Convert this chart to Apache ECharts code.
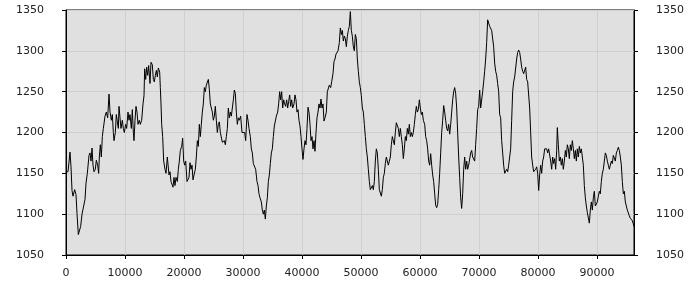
<!DOCTYPE html>
<html>
<head>
<meta charset="utf-8">
<script src="https://cdn.jsdelivr.net/npm/echarts@6/dist/echarts.min.js"></script>
<style>html,body{margin:0;padding:0;background:#fff;}#c{width:700px;height:300px;}</style>
</head>
<body>
<div id="c"></div>
<script>
var yTicks = [1050, 1100, 1150, 1200, 1250, 1300, 1350];
var xTicks = [0, 10000, 20000, 30000, 40000, 50000, 60000, 70000, 80000, 90000];
var xs = [0,339,508,678,848,1017,1187,1469,1695,1865,2091,2317,2486,2712,2995,3221,3390,3616,3899,4068,4238,4407,4577,4746,4972,5142,5368,5537,5650,5820,5989,6159,6328,6611,6837,7063,7289,7458,7684,7854,8023,8136,8362,8532,8701,8871,8984,9153,9323,9549,9718,9888,10114,10283,10509,10679,10848,11074,11244,11413,11526,11696,11865,12035,12204,12430,12600,12826,13052,13221,13334,13504,13673,13843,14012,14238,14408,14634,14803,14973,15142,15312,15481,15651,15877,15990,16103,16216,16385,16555,16781,16950,17176,17289,17459,17628,17798,17967,18137,18306,18476,18645,18871,19041,19210,19380,19606,19775,19945,20114,20284,20510,20679,20849,21018,21188,21357,21527,21696,21922,22092,22261,22431,22600,22770,22939,23109,23278,23448,23617,23787,23956,24126,24295,24465,24634,24804,24973,25143,25312,25482,25651,25821,25990,26160,26329,26499,26668,26838,27007,27177,27346,27516,27686,27855,28024,28194,28363,28533,28702,28872,29041,29211,29380,
29605,29831,30000,30283,30452,30678,30848,31017,31243,31413,31582,31752,31978,32147,32373,32543,32712,32882,33108,33277,33447,33616,33786,33955,34125,34294,34464,34633,34803,34972,35142,35311,35481,35650,35876,36046,36215,36385,36554,36724,36893,37063,37232,37402,37571,37741,37910,38080,38249,38419,38645,38814,38984,39153,39323,39492,39662,39831,40001,40170,40340,40509,40679,40848,41018,41187,41357,41526,41696,41865,42035,42204,42374,42543,42713,42882,43052,43221,43391,43560,43730,43899,44125,44295,44464,44634,44860,45029,45255,45425,45594,45764,45933,46103,46329,46498,46668,46837,47007,47176,47346,47515,47685,47854,48024,48193,48363,48532,48702,48871,49041,49210,49380,49549,49719,49888,50058,50227,50397,50566,50736,50905,51075,51244,51414,51583,51753,51922,52092,52261,52431,52600,52770,52939,53109,53278,53448,53617,53787,53956,54126,54295,54465,54634,54804,54973,55143,55312,55482,55651,55821,55990,56160,56329,56499,56668,56838,57007,57177,57346,57516,57685,57855,58024,58194,58363,58533,58702,58872,59041,59211,59380,59550,59719,59889,60058,60228,60397,60567,60793,60962,61132,61301,61471,61640,61810,61979,62149,62318,62488,62657,62827,62996,63166,63335,63505,63674,63844,64013,64183,64352,64522,64691,64861,65030,65200,65369,65539,65708,65878,66047,66217,66386,66556,66725,66895,67064,67234,67403,67573,67742,67912,68081,68251,68420,
68588,68757,68927,69096,69266,69435,69605,69774,69944,70113,70283,70452,70622,70791,70961,71130,71300,71469,71639,71808,71978,72147,72317,72486,72656,72825,72995,73164,73334,73503,73673,73842,74012,74181,74351,74520,74690,74859,75029,75198,75368,75537,75707,75876,76046,76215,76385,76554,76724,76893,77063,77232,77402,77571,77741,77910,78080,78249,78419,78588,78758,78927,79097,79266,79436,79605,79775,79944,80114,80283,80453,80622,80792,80961,81131,81300,81470,81639,81809,81978,82148,82317,82487,82656,82826,82995,83165,83278,83447,83617,83786,83956,84125,84295,84464,84634,84803,84973,85142,85312,85481,85651,85820,85990,86159,86329,86498,86668,86837,87007,87176,87346,87515,87685,87854,88024,88193,88363,88532,88702,88871,89041,89210,89380,89549,89719,89888,90058,90227,90397,90566,90736,90905,91075,91244,91414,91583,91753,91922,92092,92261,92431,92600,92770,92939,93109,93278,93448,93617,93787,93956,94126,94295,94465,94634,94804,94973,95143,95312,95482,95651,95821,95990,96160,96273];
var ys = [1152,1152,1150,1176,1158,1129,1122,1130,1124,1101,1075,1075,1085,1100,1100,1118,1138,1150,1172,1175,1165,1181,1160,1152,1155,1166,1160,1150,1170,1185,1170,1195,1205,1220,1225,1218,1247,1225,1215,1222,1200,1190,1200,1222,1213,1205,1232,1218,1205,1215,1205,1200,1210,1205,1225,1215,1222,1205,1228,1200,1190,1215,1232,1225,1210,1215,1210,1215,1235,1245,1278,1265,1280,1270,1282,1260,1286,1283,1265,1262,1270,1276,1268,1279,1274,1255,1235,1210,1195,1165,1155,1150,1170,1170,1148,1152,1140,1138,1133,1145,1135,1145,1140,1155,1165,1178,1183,1193,1165,1160,1165,1140,1138,1145,1163,1155,1160,1142,1148,1155,1170,1190,1183,1210,1195,1210,1225,1235,1255,1250,1258,1258,1265,1253,1235,1230,1225,1215,1220,1232,1215,1200,1210,1213,1200,1198,1188,1190,1190,1185,1195,1205,1230,1218,1225,1220,1230,1240,1252,1248,1225,1210,1218,1215,
1220,1200,1198,1200,1190,1222,1215,1205,1195,1180,1175,1162,1160,1155,1140,1135,1125,1120,1115,1105,1100,1105,1094,1110,1120,1140,1148,1162,1175,1180,1195,1208,1210,1220,1225,1235,1250,1240,1250,1230,1240,1235,1232,1240,1230,1238,1246,1232,1240,1230,1235,1246,1240,1225,1228,1215,1208,1195,1180,1167,1180,1190,1185,1205,1231,1225,1210,1190,1195,1180,1190,1177,1200,1218,1225,1235,1230,1241,1230,1235,1214,1218,1225,1250,1252,1258,1255,1262,1272,1287,1290,1296,1298,1300,1310,1328,1320,1325,1312,1318,1315,1305,1318,1325,1330,1348,1325,1318,1305,1300,1320,1315,1290,1275,1262,1255,1245,1230,1225,1210,1195,1180,1170,1155,1140,1130,1132,1135,1130,1140,1165,1180,1175,1155,1130,1128,1122,1130,1145,1150,1162,1170,1170,1160,1165,1170,1185,1195,1190,1185,1200,1212,1212,1205,1195,1205,1195,1185,1168,1180,1195,1190,1205,1198,1210,1195,1200,1195,1200,1210,1222,1232,1225,1228,1240,1230,1222,1225,1215,1210,1195,1190,1180,1165,1160,1174,1160,1148,1140,1125,1111,1108,1112,1130,1150,1175,1200,1215,1233,1225,1215,1205,1202,1210,1198,1210,1225,1240,1250,1255,1248,1230,1200,1170,1145,1120,1107,1125,1155,1170,1155,1165,1155,1160,1162,
1175,1178,1170,1168,1165,1185,1205,1228,1232,1252,1230,1232,1250,1262,1275,1290,1310,1338,1338,1330,1332,1325,1324,1305,1285,1275,1270,1260,1250,1222,1218,1190,1175,1160,1150,1152,1155,1152,1160,1170,1180,1215,1250,1262,1268,1270,1290,1298,1301,1298,1290,1280,1275,1272,1270,1280,1265,1262,1260,1230,1200,1170,1160,1152,1150,1155,1158,1150,1129,1148,1160,1150,1165,1170,1180,1178,1180,1175,1180,1178,1165,1155,1170,1162,1168,1155,1178,1206,1185,1165,1170,1160,1168,1155,1165,1178,1170,1185,1180,1168,1185,1178,1190,1180,1168,1178,1165,1180,1170,1183,1175,1180,1178,1160,1135,1120,1110,1102,1100,1089,1105,1115,1105,1120,1128,1110,1108,1115,1122,1128,1125,1140,1150,1155,1165,1175,1172,1165,1160,1155,1160,1165,1162,1172,1170,1165,1175,1178,1182,1178,1170,1160,1140,1125,1128,1115,1110,1105,1105,1098,1095,1095,1092,1088,1085];

var pts = xs.map(function (x, i) { return [x, ys[i]]; });
var chart = echarts.init(document.getElementById('c'), null, { renderer: 'canvas' });
function plain(v) { return String(v); }
var lbl = { color: '#222', fontFamily: 'DejaVu Sans', fontSize: 11, formatter: plain };
function yAxisDef(pos, showSplit) {
  return {
    type: 'value', position: pos,
    min: yTicks[0], max: yTicks[yTicks.length - 1], interval: 50,
    axisLine: { show: true, lineStyle: { color: '#000', width: 1 } },
    axisTick: { show: true, length: 4, lineStyle: { color: '#000' } },
    axisLabel: Object.assign({ margin: 22 }, lbl),
    splitLine: { show: showSplit, lineStyle: { color: '#cfcfcf', width: 1 } }
  };
}
chart.setOption({
  animation: false,
  backgroundColor: '#ffffff',
  grid: { left: 66, right: 66, top: 10, bottom: 45, show: true, backgroundColor: '#e0e0e0', borderColor: '#000', borderWidth: 1 },
  xAxis: {
    type: 'value', min: xTicks[0], max: xs[xs.length - 1], interval: 10000,
    axisLine: { show: true, onZero: false, lineStyle: { color: '#000', width: 1 } },
    axisTick: { show: true, length: 4, lineStyle: { color: '#000' } },
    axisLabel: Object.assign({ margin: 13, showMaxLabel: false }, lbl),
    splitLine: { show: true, lineStyle: { color: '#cfcfcf', width: 1 } }
  },
  yAxis: [yAxisDef('left', true), yAxisDef('right', false)],
  series: [{
    type: 'line', data: pts, showSymbol: false, symbol: 'none',
    lineStyle: { color: '#000', width: 1 }, yAxisIndex: 0
  }]
});
</script>
</body>
</html>
